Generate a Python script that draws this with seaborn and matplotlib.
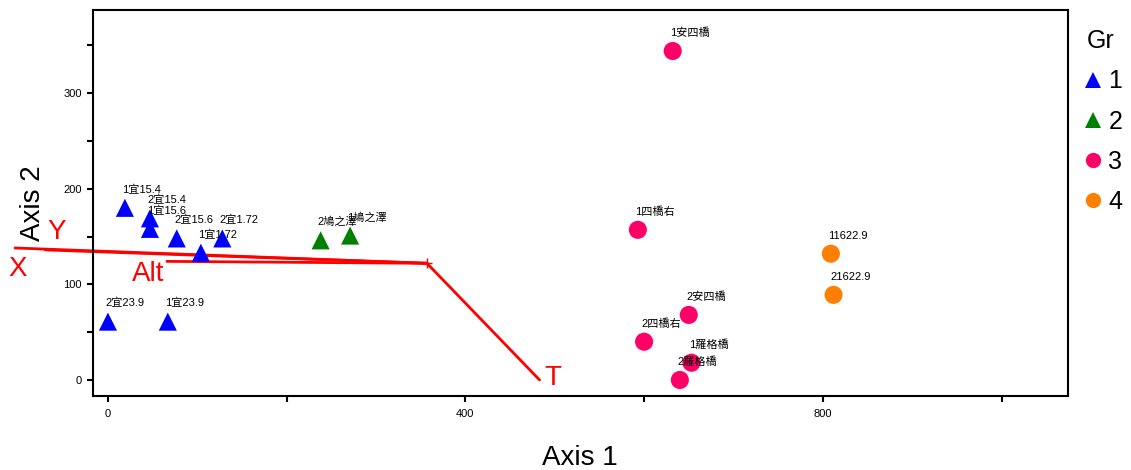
import matplotlib
matplotlib.use("Agg")
import matplotlib.pyplot as plt
import seaborn as sns
import pandas as pd
from matplotlib.ticker import MultipleLocator

# ---- data ----
labels = ['1宜15.4', '2宜15.4', '1宜15.6', '2宜15.6', '2宜1.72', '1宜1.72', '2宜23.9', '1宜23.9',
          '2鳩之澤', '1鳩之澤',
          '1安四橋', '1四橋右', '2安四橋', '2四橋右', '1羅格橋', '2羅格橋',
          '11622.9', '21622.9']
axis1 = [19, 47, 47, 77, 128, 104, 0, 67,
         238, 271,
         632, 593, 650, 600, 653, 640,
         809, 812]
axis2 = [180, 169, 158, 148, 148, 133, 61, 61,
         146, 151,
         344, 157, 68, 40, 18, 0,
         132, 89]
groups = [1, 1, 1, 1, 1, 1, 1, 1,
          2, 2,
          3, 3, 3, 3, 3, 3,
          4, 4]

# biplot vectors
vec_origin = (357, 122)
vec_names = ['X', 'Y', 'Alt', 'T']
vec_end_x = [-104, -70, 66, 483]
vec_end_y = [138, 136, 124, 0]
vec_label_x = [-101, -58, 45, 498]
vec_label_y = [116, 155, 111, 2]

df = pd.DataFrame({'Axis 1': axis1, 'Axis 2': axis2, 'Gr': groups, 'label': labels})

sns.set_theme(style='ticks')
plt.rcParams['font.family'] = ['Liberation Sans', 'Noto Sans CJK TC', 'DejaVu Sans']
plt.rcParams['text.color'] = 'black'
plt.rcParams['axes.labelcolor'] = 'black'
plt.rcParams['xtick.color'] = 'black'
plt.rcParams['ytick.color'] = 'black'

fig = plt.figure(figsize=(11.31, 4.70), dpi=100)
ax = fig.add_axes([0.082, 0.157, 0.862, 0.822])

palette = {1: '#0000FF', 2: '#008000', 3: '#FF0066', 4: '#FF8000'}
markers = {1: '^', 2: '^', 3: 'o', 4: 'o'}
sns.scatterplot(data=df, x='Axis 1', y='Axis 2', hue='Gr', style='Gr',
                palette=palette, markers=markers, s=170, linewidth=0, ax=ax, zorder=3)

for lab, x, y in zip(labels, axis1, axis2):
    ax.annotate(lab, (x, y), xytext=(-2, 13), textcoords='offset points',
                ha='left', va='center', fontsize=8,
                family=['Liberation Sans', 'Noto Sans CJK TC'], color='black', zorder=4)

# vectors
ox, oy = vec_origin
for name, ex, ey, lx, ly in zip(vec_names, vec_end_x, vec_end_y, vec_label_x, vec_label_y):
    ax.plot([ox, ex], [oy, ey], color='red', lw=2.0, clip_on=False, zorder=2)
    ax.text(lx, ly, name, color='red', fontsize=20, ha='center', va='center')
ax.plot([ox], [oy], marker='+', color='red', ms=7, mew=1, zorder=2)

ax.set_xlim(-17, 1074)
ax.set_ylim(-17, 387)
ax.xaxis.set_major_locator(MultipleLocator(400))
ax.xaxis.set_minor_locator(MultipleLocator(200))
ax.yaxis.set_major_locator(MultipleLocator(100))
ax.yaxis.set_minor_locator(MultipleLocator(50))
ax.tick_params(which='both', direction='out', length=4, width=1.5, color='black',
               labelsize=8)
ax.tick_params(axis='y', pad=4)
ax.tick_params(axis='x', pad=5)
for sp in ax.spines.values():
    sp.set_linewidth(1.5)
    sp.set_color('black')
    sp.set_visible(True)

ax.set_xlabel('Axis 1', fontsize=20, labelpad=19, color='black')
ax.set_ylabel('Axis 2', fontsize=20, labelpad=12, color='black')

sns.move_legend(ax, 'upper left', bbox_to_anchor=(1.02, 0.95), frameon=False,
                title='Gr', fontsize=18, title_fontsize=18,
                handlelength=0.45, handletextpad=0.4, labelspacing=0.65,
                borderaxespad=0, borderpad=0)
leg = ax.get_legend()
leg._legend_box.align = 'left'
for h in leg.legend_handles:
    h.set_markersize(11)

fig.savefig('out.png', dpi=100)
